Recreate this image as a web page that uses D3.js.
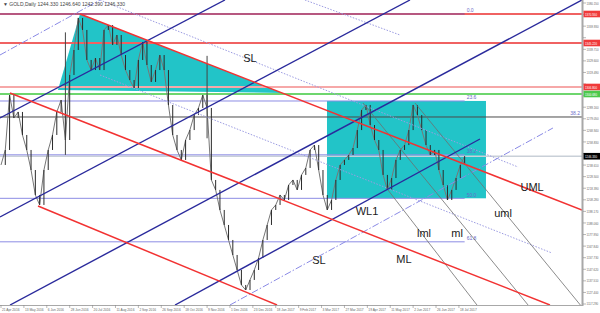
<!DOCTYPE html>
<html lang="en">
<head>
<meta charset="UTF-8">
<title>GOLD Daily</title>
<script src="https://cdnjs.cloudflare.com/ajax/libs/d3/7.8.5/d3.min.js"></script>
<style>
body{ margin:0; background:#fff; }
svg{ display:block; font-family:"Liberation Sans", Arial, sans-serif; }
.axis-lbl{ font-size:4.4px; fill:#666; }
.note{ font-size:11px; fill:#1a1a1a; }
.fib-lbl{ font-size:5px; fill:#6a6ac8; }
.box-lbl{ font-size:4.4px; fill:#fff; }
</style>
</head>
<body>
<script>
// closes, one every 3 trading days from 21 Apr 2016
var closes = [
  1238.7, 1251.8, 1299.8, 1279.7, 1285.0, 1264.9, 1251.8, 1234.3, 1212.5, 1203.8,
  1234.3, 1251.8, 1264.9, 1285.0, 1295.4, 1260.5, 1317.3, 1339.1, 1367.1, 1356.6,
  1330.4, 1321.6, 1332.1, 1321.6, 1356.6, 1360.9, 1343.5, 1352.2, 1334.7, 1321.6,
  1312.9, 1305.9, 1330.4, 1346.1, 1326.0, 1311.2, 1321.6, 1334.7, 1321.6, 1291.1,
  1264.9, 1251.8, 1243.1, 1260.5, 1269.2, 1282.3, 1288.5, 1299.8, 1288.5, 1225.6,
  1216.9, 1199.4, 1186.3, 1173.2, 1160.1, 1147.0, 1133.9, 1129.5, 1138.3, 1147.0,
  1157.5, 1173.2, 1186.3, 1199.4, 1203.8, 1212.5, 1208.1, 1221.2, 1225.6, 1216.9,
  1230.0, 1236.1, 1251.8, 1256.1, 1234.3, 1212.5, 1199.4, 1208.1, 1225.6, 1238.7,
  1243.1, 1247.4, 1253.5, 1269.2, 1286.7, 1291.1, 1273.6, 1260.5, 1251.8, 1230.0,
  1216.9, 1227.3, 1243.1, 1251.8, 1256.1, 1269.2, 1291.1, 1282.3, 1269.2, 1256.1,
  1247.4, 1251.8, 1234.3, 1221.2, 1208.1, 1216.9, 1227.3, 1238.7, 1246.3
];
var step = 3;
// long single-day bars: [day, low, high]
var spikes = [[45, 1247.5, 1354.5], [144, 1262.0, 1334.0]];

var dateLabels = ["21 Apr 2016","13 May 2016","6 Jun 2016","28 Jun 2016","20 Jul 2016",
  "11 Aug 2016","2 Sep 2016","26 Sep 2016","18 Oct 2016","9 Nov 2016","1 Dec 2016",
  "23 Dec 2016","18 Jan 2017","9 Feb 2017","3 Mar 2017","27 Mar 2017","19 Apr 2017",
  "11 May 2017","2 Jun 2017","26 Jun 2017","18 Jul 2017"];
var dateStep = 16;

var priceTicks = [1117.29, 1127.40, 1137.51, 1147.62, 1157.73, 1167.84, 1177.95, 1188.06,
  1198.17, 1208.28, 1218.39, 1228.50, 1238.61, 1248.72, 1258.83, 1268.94, 1279.05,
  1289.16, 1299.27, 1309.38, 1319.49, 1329.60, 1339.71, 1349.82, 1359.93, 1370.04, 1380.15];

// horizontal levels
var redLevels = [1370.55, 1345.22];
var pinkLevel = 1306.80;
var greenLevel = 1300.68;
var blackLevel = 1280.60;
var lastPrice = 1246.33;

// fibonacci retracement
var fibHigh = 1370.55, fibLow = 1048.6;
var fibLevels = [0, 23.6, 38.2, 50.0, 61.8];
var fibSpan = [-1, 324];

// trend lines [day1, price1, day2, price2]
var redLines = [[55.2, 1370.55, 406, 1199.38], [6.29, 1301.56, 383.6, 1116.42], [25.86, 1202.87, 192.9, 1116.42]];
var navyLines = [[-0.7, 1279.72, 156.5, 1382.77], [-0.7, 1193.27, 285.8, 1382.77],
  [6.29, 1116.42, 406, 1382.77], [121.6, 1116.42, 334.7, 1261.38]];
var dashedLines = [[-0.7, 1334.74, 69.2, 1382.77], [160.0, 1116.42, 385.7, 1270.99]];
var dottedLines = [[69.2, 1382.77, 361.3, 1236.93], [69.2, 1317.27, 385.0, 1161.83], [212.4, 1382.77, 278.8, 1352.21]];
var grayLines = [[253.0, 1292.82, 368.3, 1116.42], [289.3, 1292.82, 406, 1114.67], [270.4, 1216.85, 332.6, 1116.42]];

var triangle = [[39.8, 1304.2], [55.2, 1370.55], [196.4, 1301.6]];
var box = [227.8, 338.9, 1294.6, 1209.6];

var notes = [["SL", 174, 1332.1], ["SL", 222.2, 1155.7], ["WL1", 255.8, 1198.5], ["lml", 295.6, 1179.3],
  ["ml", 318.7, 1179.3], ["uml", 350.8, 1196.8], ["UML", 371.1, 1219.5], ["ML", 281.6, 1156.6]];

var W = 600, H = 313, plotR = 582, plotB = 305;

var x = d3.scaleLinear().domain([0, 406]).range([1, plotR]);
var y = d3.scaleLinear().domain([1117.29, 1380.15]).range([304, 3]);
var fmt = d3.format(".3f");

var svg = d3.select("body").append("svg").attr("width", W).attr("height", H);

svg.append("clipPath").attr("id", "plot")
  .append("rect").attr("width", plotR).attr("height", plotB);

var g = svg.append("g").attr("clip-path", "url(#plot)");

// cyan areas
g.append("path")
  .attr("d", "M" + triangle.map(function (p) { return x(p[0]) + "," + y(p[1]); }).join("L") + "Z")
  .attr("fill", "#22c4c8");
g.append("rect")
  .attr("x", x(box[0])).attr("y", y(box[2]))
  .attr("width", x(box[1]) - x(box[0])).attr("height", y(box[3]) - y(box[2]))
  .attr("fill", "#22c4c8");

function hline(p, x1, x2, color, w) {
  g.append("line").attr("x1", x1).attr("x2", x2).attr("y1", y(p)).attr("y2", y(p))
    .attr("stroke", color).attr("stroke-width", w);
}

hline(lastPrice, 0, plotR, "#c9d0d8", 1.5);
hline(pinkLevel, 0, plotR, "#f6a8a8", 2);
hline(greenLevel, 0, plotR, "#6ed66e", 2);
redLevels.forEach(function (p) { hline(p, 0, plotR, "#f06262", 2); });
hline(blackLevel, 0, plotR, "#4a4a4a", 1);

// fib levels
fibLevels.forEach(function (f) {
  var p = fibHigh - (fibHigh - fibLow) * f / 100;
  hline(p, x(fibSpan[0]), x(fibSpan[1]), f === 0 ? "#7d4fa0" : "#8c8ce4", 1);
  g.append("text").attr("class", "fib-lbl")
    .attr("x", x(fibSpan[1]) + 2).attr("y", y(p) - 1.5)
    .text(f.toFixed(1));
});

// price bars
var line = d3.line()
  .x(function (d, i) { return x(i * step); })
  .y(function (d) { return y(d); });
g.append("path").datum(closes)
  .attr("d", line).attr("fill", "none").attr("stroke", "#777").attr("stroke-width", 1);
g.selectAll(".bar").data(closes.slice(1)).enter().append("line")
  .attr("x1", function (d, i) { return x((i + 1) * step); })
  .attr("x2", function (d, i) { return x((i + 1) * step); })
  .attr("y1", function (d, i) { return y(closes[i]); })
  .attr("y2", function (d) { return y(d); })
  .attr("stroke", "#2a2a2a").attr("stroke-width", 1);
g.selectAll(".spike").data(spikes).enter().append("line")
  .attr("x1", function (d) { return x(d[0]); }).attr("x2", function (d) { return x(d[0]); })
  .attr("y1", function (d) { return y(d[1]); }).attr("y2", function (d) { return y(d[2]); })
  .attr("stroke", "#444").attr("stroke-width", 1);

function trend(list, color, w, dash) {
  g.selectAll(null).data(list).enter().append("line")
    .attr("x1", function (d) { return x(d[0]); }).attr("y1", function (d) { return y(d[1]); })
    .attr("x2", function (d) { return x(d[2]); }).attr("y2", function (d) { return y(d[3]); })
    .attr("stroke", color).attr("stroke-width", w)
    .attr("stroke-dasharray", dash || null);
}

trend(dottedLines, "#9c9ce2", 1, "1.5,1.5");
trend(dashedLines, "#8a8ae6", 1, "7,2,1.5,2");
trend(grayLines, "#6e6e6e", 0.8);
trend(navyLines, "#2a2a9c", 1.4);
trend(redLines, "#f23232", 1.5);

g.append("text").attr("class", "fib-lbl").attr("x", plotR - 2).attr("y", y(blackLevel) - 1.5)
  .attr("text-anchor", "end").attr("fill", "#555").text("38.2");

// notes
g.selectAll(".note").data(notes).enter().append("text")
  .attr("class", "note").attr("text-anchor", "middle")
  .attr("x", function (d) { return x(d[1]); })
  .attr("y", function (d) { return y(d[2]) + 4; })
  .text(function (d) { return d[0]; });

// header
svg.append("text").attr("x", 3).attr("y", 6).attr("font-size", 5).attr("fill", "#444")
  .text("\u25BC GOLD,Daily  1244.330 1246.640 1242.390 1246.330");

// narrow text, squeezed horizontally like the terminal font
function narrow(sel, cls, tx, ty, sx, t) {
  return sel.append("text").attr("class", cls)
    .attr("transform", "translate(" + tx + "," + ty + ") scale(" + sx + ",1)")
    .text(t);
}

// right axis
var boxed = redLevels.concat([pinkLevel, greenLevel, lastPrice]);
svg.append("line").attr("x1", plotR + 0.5).attr("x2", plotR + 0.5).attr("y1", 0).attr("y2", plotB + 1)
  .attr("stroke", "#a8a8a8").attr("stroke-width", 2);
priceTicks.forEach(function (p) {
  svg.append("line").attr("x1", plotR + 1).attr("x2", plotR + 4)
    .attr("y1", y(p)).attr("y2", y(p)).attr("stroke", "#888").attr("stroke-width", 0.6);
  var hidden = boxed.some(function (b) { return Math.abs(y(b) - y(p)) < 6; });
  if (hidden) return;
  narrow(svg, "axis-lbl", plotR + 4.5, Math.min(y(p) + 1.6, 305), 0.66, fmt(p));
});

function priceBox(p, color) {
  svg.append("rect").attr("x", plotR + 1.5).attr("y", y(p) - 3.3)
    .attr("width", W - plotR - 1.5).attr("height", 6.6).attr("fill", color);
  narrow(svg, "box-lbl", plotR + 3, y(p) + 1.6, 0.66, fmt(p));
}
redLevels.forEach(function (p) { priceBox(p, "#f03a3a"); });
priceBox(pinkLevel, "#f03a3a");
priceBox(greenLevel, "#4cc84c");
priceBox(lastPrice, "#000");

// bottom axis
svg.append("line").attr("x1", 0).attr("x2", plotR).attr("y1", plotB + 0.5).attr("y2", plotB + 0.5)
  .attr("stroke", "#a8a8a8").attr("stroke-width", 1);
dateLabels.forEach(function (t, k) {
  var xx = x(k * dateStep);
  svg.append("line").attr("x1", xx).attr("x2", xx).attr("y1", plotB).attr("y2", plotB + 3)
    .attr("stroke", "#888").attr("stroke-width", 0.6);
  narrow(svg, "axis-lbl", xx + 1, plotB + 6.3, 0.74, t);
});
</script>
</body>
</html>
